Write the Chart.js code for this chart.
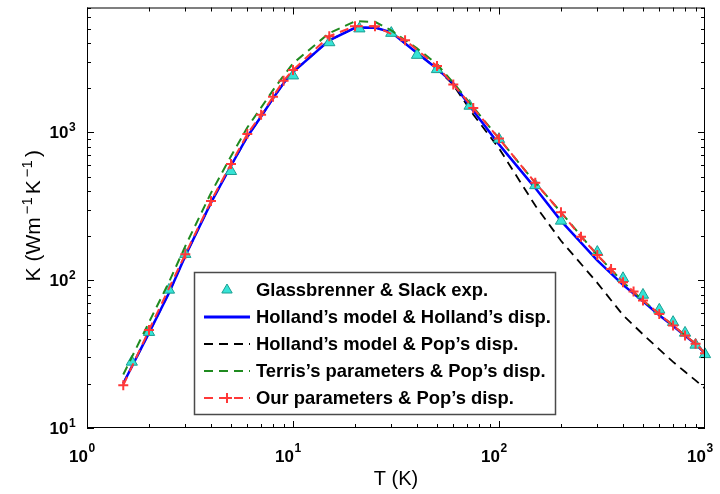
<!DOCTYPE html>
<html>
<head>
<meta charset="utf-8">
<script src="https://cdn.jsdelivr.net/npm/chart.js@4.4.0/dist/chart.umd.min.js"></script>
<style>
  html, body { margin: 0; padding: 0; background: #fff; }
  #wrap { width: 720px; height: 494px; }
</style>
</head>
<body>
<div id="wrap"><canvas id="kChart" width="720" height="494"></canvas></div>
<script>
// Glassbrenner & Slack experiment
const expT = [1.65, 2, 2.5, 3, 5, 10, 15, 21, 30, 40, 50, 72, 100, 150, 200, 300, 400, 500, 600, 700, 800, 900, 1000];
const expK = [28, 44.5, 86, 150, 546, 2420, 4060, 5035, 4700, 3335, 2670, 1510, 900, 438, 252, 155, 103, 79.5, 63, 52, 44, 36.5, 31.5];

// temperatures used by the model curves
const modelT = [1.5, 2, 2.5, 3, 4, 5, 6, 7, 8, 9, 10, 15, 20, 25, 30, 40, 50, 60, 75, 100, 150, 200, 300, 400, 500, 600, 700, 800, 900, 1000];
const hollandK = [20, 44, 82, 146, 335, 595, 935, 1280, 1700, 2150, 2560, 4200, 5100, 5120, 4750, 3450, 2700, 2150, 1400, 830, 420, 252, 136, 93, 72, 58, 49, 42, 37, 32];
const hollandPopK = [20, 44, 82, 146, 335, 595, 935, 1280, 1700, 2150, 2560, 4200, 5100, 5120, 4750, 3450, 2700, 2100, 1320, 780, 320, 185, 96, 58, 43, 34, 28, 24, 21, 18.5];
const terrisK = [23, 52, 97, 170, 390, 690, 1080, 1470, 1930, 2420, 2930, 4700, 5650, 5600, 4900, 3700, 2900, 2170, 1480, 910, 456, 288, 148, 97, 73, 59, 49.4, 42.3, 37.2, 32.1];

// our parameters (marked points)
const oursT = [1.5, 2, 3, 4, 5, 6, 7, 8, 9, 10, 15, 20, 25, 35, 50, 60, 75, 100, 150, 200, 250, 300, 350, 400, 450, 500, 600, 700, 800, 900, 1000];
const oursK = [19.5, 46, 150, 343, 612, 975, 1316, 1745, 2240, 2640, 4480, 5230, 5220, 4210, 2810, 2110, 1460, 908, 456, 288, 197, 148, 119, 97, 84, 73, 59, 49.4, 42.3, 37.2, 32.1];

const xDecades = [1, 10, 100, 1000];
const xExp = ["0", "1", "2", "3"];
const yDecades = [10, 100, 1000];
const yExp = ["1", "2", "3"];

const legendLabels = [
  "Glassbrenner & Slack exp.",
  "Holland\u2019s model & Holland\u2019s disp.",
  "Holland\u2019s model & Pop\u2019s disp.",
  "Terris\u2019s parameters & Pop\u2019s disp.",
  "Our parameters & Pop\u2019s disp."
];

const CYAN = "#36e3d6", CYAN_EDGE = "#1a9f92";
const BLUE = "#0000ff", BLACK = "#000000", GREEN = "#1f8a1f", RED = "#ff3838";
const DASH = [9, 6];
const FONT = "'Liberation Sans', Arial, sans-serif";

function pts(xs, ys) {
  return xs.map((x, i) => ({ x: x, y: ys[i] }));
}

// boxed axes, inward ticks, TeX-like labels and the legend
const decorPlugin = {
  id: "decor",
  afterDraw(chart) {
    const ctx = chart.ctx;
    const a = chart.chartArea;
    const xs = chart.scales.x, ys = chart.scales.y;
    ctx.save();

    ctx.strokeStyle = "#000";
    ctx.lineWidth = 1;
    ctx.strokeRect(a.left + 0.5, a.top + 0.5, a.right - a.left - 1, a.bottom - a.top - 1);

    ctx.beginPath();
    // x ticks
    for (let d = 1; d < 1000; d *= 10) {
      for (let m = 1; m <= 9; m++) {
        const v = d * m;
        const px = Math.round(xs.getPixelForValue(v)) + 0.5;
        const len = m === 1 ? 7 : 4;
        ctx.moveTo(px, a.bottom); ctx.lineTo(px, a.bottom - len);
        ctx.moveTo(px, a.top); ctx.lineTo(px, a.top + len);
      }
    }
    // y ticks
    for (let d = 10; d < 10000; d *= 10) {
      for (let m = 1; m <= 9; m++) {
        const v = d * m;
        if (v > 7000) break;
        const py = Math.round(ys.getPixelForValue(v)) + 0.5;
        const len = m === 1 ? 7 : 4;
        ctx.moveTo(a.left, py); ctx.lineTo(a.left + len, py);
        ctx.moveTo(a.right, py); ctx.lineTo(a.right - len, py);
      }
    }
    ctx.stroke();

    ctx.fillStyle = "#000";
    ctx.textBaseline = "alphabetic";
    // x tick labels
    xDecades.forEach((v, i) => {
      const px = xs.getPixelForValue(v);
      ctx.font = "bold 17px " + FONT;
      ctx.textAlign = "right";
      ctx.fillText("10", px + 1, 462);
      ctx.font = "bold 12px " + FONT;
      ctx.textAlign = "left";
      ctx.fillText(xExp[i], px + 1.5, 452);
    });
    // y tick labels
    yDecades.forEach((v, i) => {
      const py = ys.getPixelForValue(v);
      ctx.font = "bold 17px " + FONT;
      ctx.textAlign = "right";
      ctx.fillText("10", 68.5, py + 6);
      ctx.font = "bold 12px " + FONT;
      ctx.textAlign = "left";
      ctx.fillText(yExp[i], 69, py - 1);
    });

    // x axis title
    ctx.font = "20px " + FONT;
    ctx.textAlign = "center";
    ctx.fillText("T (K)", (a.left + a.right) / 2, 485);

    // y axis title with superscripts
    const parts = [
      ["K (Wm", 21, 0, 0],
      ["\u22121", 15, -8, 3],
      ["K", 21, 0, 3],
      ["\u22121", 15, -8, 3],
      [")", 21, 0, 3]
    ];
    let total = 0;
    parts.forEach(p => {
      ctx.font = p[1] + "px " + FONT;
      total += p[3] + ctx.measureText(p[0]).width;
    });
    ctx.translate(40, (a.top + a.bottom) / 2 - 2);
    ctx.rotate(-Math.PI / 2);
    ctx.textAlign = "left";
    let cx = -total / 2;
    parts.forEach(p => {
      ctx.font = p[1] + "px " + FONT;
      cx += p[3];
      ctx.fillText(p[0], cx, p[2]);
      cx += ctx.measureText(p[0]).width;
    });
    ctx.setTransform(1, 0, 0, 1, 0, 0);

    // legend
    const bx = 194.5, by = 272.5, bw = 361, bh = 142;
    ctx.fillStyle = "#fff";
    ctx.fillRect(bx, by, bw, bh);
    ctx.strokeStyle = "#4a4a4a";
    ctx.lineWidth = 1.5;
    ctx.strokeRect(bx, by, bw, bh);

    const rows = [290, 317, 344, 371, 398];
    const x0 = 204, x1 = 250, xm = 227;
    // row 0: triangle
    ctx.beginPath();
    ctx.moveTo(xm, rows[0] - 6);
    ctx.lineTo(xm + 5.2, rows[0] + 3);
    ctx.lineTo(xm - 5.2, rows[0] + 3);
    ctx.closePath();
    ctx.fillStyle = CYAN; ctx.fill();
    ctx.strokeStyle = CYAN_EDGE; ctx.lineWidth = 1; ctx.stroke();
    // rows 1-4: line samples
    const samples = [[BLUE, [], 3], [BLACK, DASH, 2], [GREEN, DASH, 2], [RED, DASH, 2]];
    samples.forEach((s, i) => {
      const y = rows[i + 1];
      ctx.strokeStyle = s[0];
      ctx.lineWidth = s[2];
      ctx.setLineDash(s[1]);
      ctx.beginPath();
      ctx.moveTo(x0, y); ctx.lineTo(x1, y);
      ctx.stroke();
    });
    ctx.setLineDash([]);
    // red cross
    ctx.strokeStyle = RED; ctx.lineWidth = 2;
    ctx.beginPath();
    ctx.moveTo(xm - 5, rows[4]); ctx.lineTo(xm + 5, rows[4]);
    ctx.moveTo(xm, rows[4] - 5); ctx.lineTo(xm, rows[4] + 5);
    ctx.stroke();

    ctx.fillStyle = "#000";
    ctx.font = "bold 18.4px " + FONT;
    ctx.textAlign = "left";
    ctx.textBaseline = "middle";
    legendLabels.forEach((t, i) => ctx.fillText(t, 256, rows[i] + 1));

    ctx.restore();
  }
};

new Chart(document.getElementById("kChart").getContext("2d"), {
  type: "line",
  data: {
    datasets: [
      {
        label: legendLabels[4],
        data: pts(oursT, oursK),
        borderColor: RED,
        borderWidth: 2,
        borderDash: DASH,
        pointStyle: "cross",
        pointRadius: 5,
        pointBorderWidth: 2,
        pointBorderColor: RED,
        order: 0
      },
      {
        label: legendLabels[3],
        data: pts(modelT, terrisK),
        borderColor: GREEN,
        borderWidth: 2,
        borderDash: DASH,
        pointRadius: 0,
        order: 1
      },
      {
        label: legendLabels[0],
        data: pts(expT, expK),
        showLine: false,
        pointStyle: "triangle",
        pointRadius: 6.5,
        pointBackgroundColor: CYAN,
        pointBorderColor: CYAN_EDGE,
        pointBorderWidth: 1,
        clip: false,
        order: 2
      },
      {
        label: legendLabels[1],
        data: pts(modelT, hollandK),
        borderColor: BLUE,
        borderWidth: 2.5,
        pointRadius: 0,
        order: 3
      },
      {
        label: legendLabels[2],
        data: pts(modelT, hollandPopK),
        borderColor: BLACK,
        borderWidth: 1.8,
        borderDash: DASH,
        pointRadius: 0,
        order: 4
      }
    ]
  },
  options: {
    responsive: false,
    animation: false,
    devicePixelRatio: 1,
    layout: { padding: { left: 87, right: 15, top: 7, bottom: 66 } },
    elements: { line: { tension: 0 } },
    scales: {
      x: { type: "logarithmic", min: 1, max: 1000, display: false },
      y: { type: "logarithmic", min: 10, max: 7000, display: false }
    },
    plugins: {
      legend: { display: false },
      tooltip: { enabled: false }
    }
  },
  plugins: [decorPlugin]
});
</script>
</body>
</html>
